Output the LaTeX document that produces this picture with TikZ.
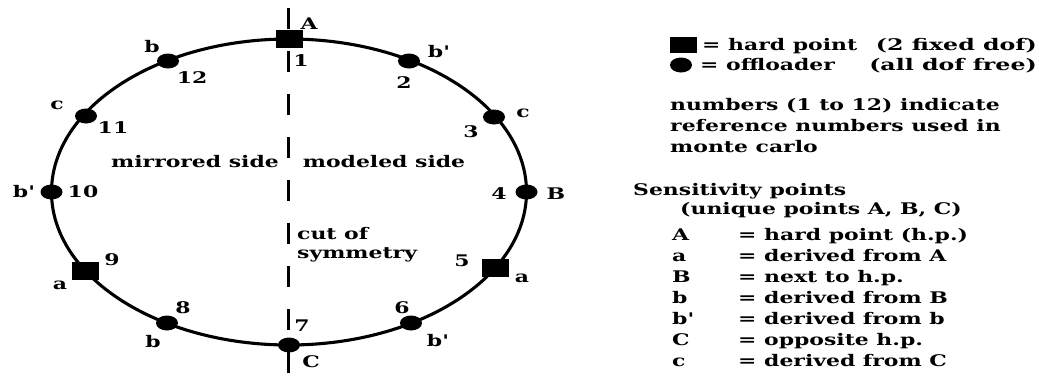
\documentclass[tikz,border=0pt]{standalone}
\usepackage{fontspec}
\newfontfamily\lbl{DejaVu Serif}[FakeStretch=1.37]
\usetikzlibrary{shapes.geometric}
\begin{document}
\begin{tikzpicture}[x=1pt,y=-1pt,
  every node/.style={font=\lbl\bfseries\fontsize{16}{19}\selectfont, inner sep=0pt},
  hp/.style={rectangle, fill=black, minimum width=27pt, minimum height=18pt},
  off/.style={ellipse, fill=black, minimum width=22pt, minimum height=15pt},
  ring/.style={line width=3.1pt},
  cut/.style={line width=2.7pt, dash pattern=on 21pt off 22pt},
  txt/.style={anchor=base west}]
\useasboundingbox (0,0) rectangle (1039,375);
% cut of symmetry
\coordinate (ctop) at (288.5,8);
\coordinate (cbot) at (288.5,375);
\draw[cut] (ctop) -- (cbot);
% ring
\coordinate (ctr) at (289,192);
\draw[ring] (ctr) ellipse [x radius=237.5pt, y radius=153pt];
% points
\node[hp]  (n1)  at (289,39) {};
\node[off] (n2)  at (409,61) {};
\node[off] (n3)  at (494,117) {};
\node[off] (n4)  at (526.5,192) {};
\node[hp]  (n5)  at (495,268) {};
\node[off] (n6)  at (411,323) {};
\node[off] (n7)  at (289,345) {};
\node[off] (n8)  at (167,323) {};
\node[hp]  (n9)  at (85,271) {};
\node[off] (n10) at (51.5,192) {};
\node[off] (n11) at (86,116) {};
\node[off] (n12) at (168,61) {};
% labels
\node (lA)  at (309,24) {A};
\node (l1)  at (301,61) {1};
\node (lb2) at (439,52) {b'};
\node (l2)  at (404,83) {2};
\node (lc3) at (523,113) {c};
\node (l3)  at (471,132) {3};
\node (l4)  at (499,194) {4};
\node (lB)  at (556,194) {B};
\node (l5)  at (462,261) {5};
\node (la5) at (522,278) {a};
\node (l6)  at (402,308) {6};
\node (lb6) at (438,341) {b'};
\node (l7)  at (302,326) {7};
\node (lC)  at (311,362) {C};
\node (l8)  at (183,308) {8};
\node (lb8) at (153,342) {b};
\node (l9)  at (112,260) {9};
\node (la9) at (60,285) {a};
\node (lb10) at (24,192) {b'};
\node (l10) at (83,192) {10};
\node (lc11) at (57,105) {c};
\node (l11) at (113,128) {11};
\node (lb12) at (152,47) {b};
\node (l12) at (192,78) {12};
\node (mir) at (195,162) {mirrored side};
\node (mod) at (384,162) {modeled side};
\node[txt] (cut1) at (297,239) {cut of};
\node[txt] (cut2) at (297,258) {symmetry};
% legend
\node[hp, minimum width=27pt, minimum height=16pt] (lsq) at (683,45) {};
\node[txt] (lhp) at (702,50) {= hard point};
\node[anchor=base east] (lhpd) at (1037,50) {\scalebox{1.08}[1]{(2 fixed dof)}};
\node[off, minimum width=22pt, minimum height=15pt] (lci) at (681,65) {};
\node[txt] (lof) at (700,70) {= offloader};
\node[anchor=base east] (lofd) at (1037,70) {\scalebox{1.08}[1]{(all dof free)}};
\node[txt] (nt1) at (670,110) {numbers (1 to 12) indicate};
\node[txt] (nt2) at (670,131) {reference numbers used in};
\node[txt] (nt3) at (670,152) {monte carlo};
\node[txt] (sp) at (633,195) {Sensitivity points};
\node[txt] (up) at (680,214) {(unique points A, B, C)};
\node[txt] (kA) at (672,240) {A};
\node[txt] (ka) at (672,261) {a};
\node[txt] (kB) at (672,282) {B};
\node[txt] (kb) at (672,303) {b};
\node[txt] (kbp) at (672,324) {b'};
\node[txt] (kC) at (672,345) {C};
\node[txt] (kc) at (672,366) {c};
\node[txt] (eA) at (738,240) {= hard point (h.p.)};
\node[txt] (ea) at (738,261) {= derived from A};
\node[txt] (eB) at (738,282) {= next to h.p.};
\node[txt] (eb) at (738,303) {= derived from B};
\node[txt] (ebp) at (738,324) {= derived from b};
\node[txt] (eC) at (738,345) {= opposite h.p.};
\node[txt] (ec) at (738,366) {= derived from C};
\end{tikzpicture}
\end{document}
